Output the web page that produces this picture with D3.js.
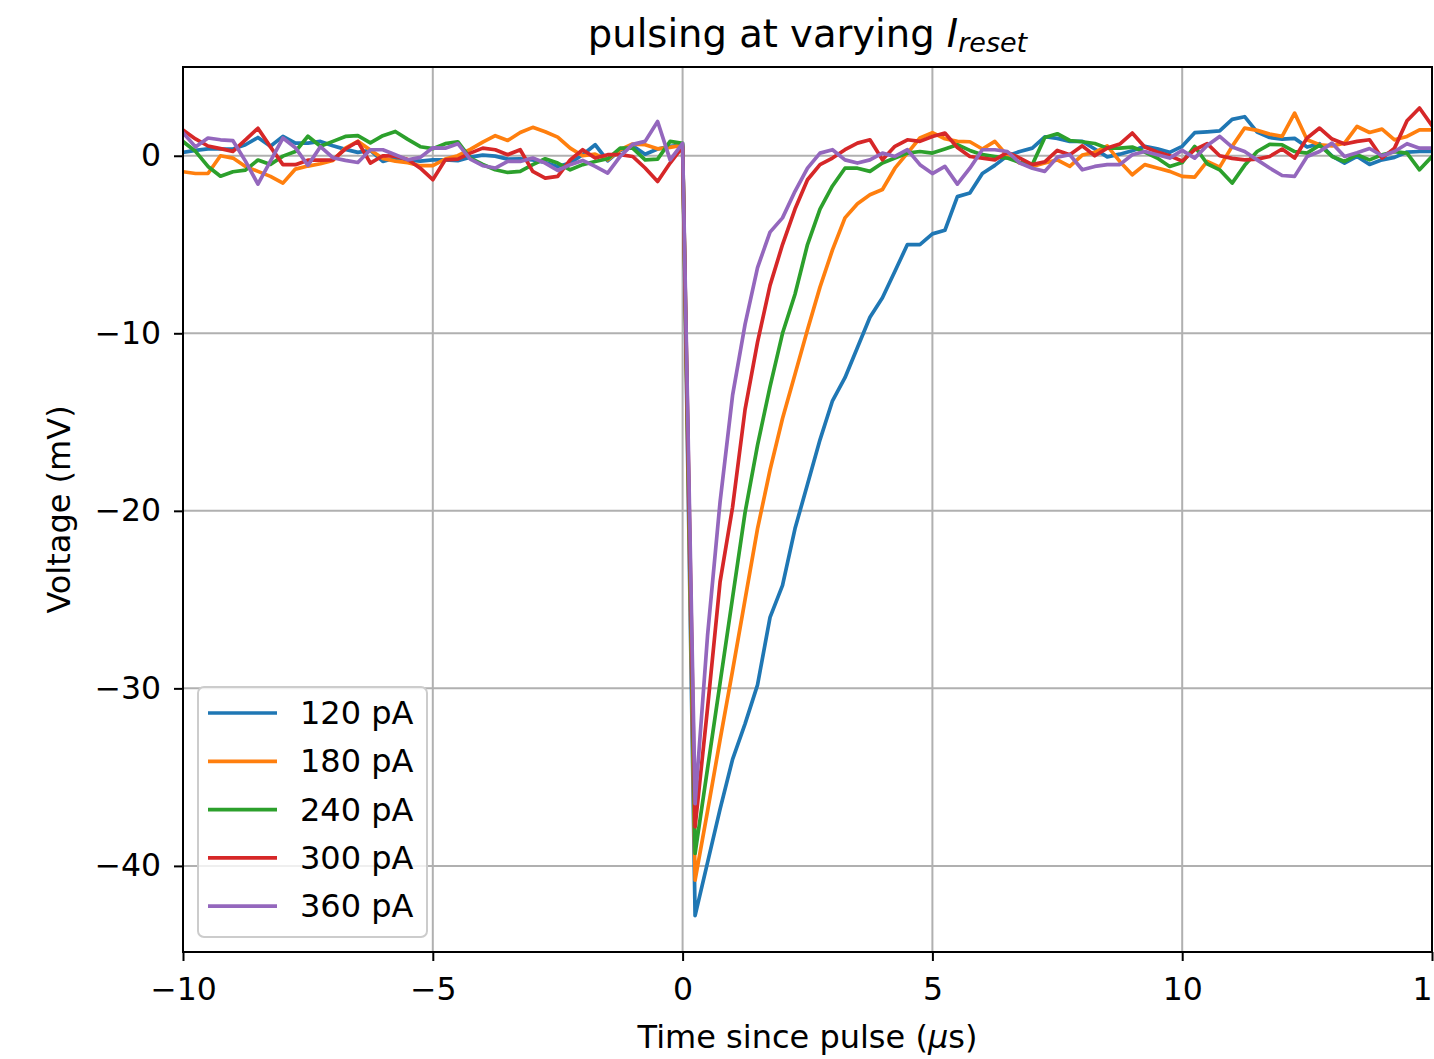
<!DOCTYPE html>
<html>
<head>
<meta charset="utf-8">
<script src="https://cdn.jsdelivr.net/npm/d3@7"></script>
<style>
  html, body { margin: 0; padding: 0; background: #fff; }
  svg text { font-family: "DejaVu Sans", sans-serif; fill: #000; }
</style>
</head>
<body>
<svg id="chart" width="1434" height="1059"></svg>
<script>
// sample grid of the recording (µs)
const T_START = -10;
const T_STEP = 0.25;

const labels = ["120 pA", "180 pA", "240 pA", "300 pA", "360 pA"];
const colors = ["#1f77b4", "#ff7f0e", "#2ca02c", "#d62728", "#9467bd"];

const xTicks = [-10, -5, 0, 5, 10, 15];
const yTicks = [0, -10, -20, -30, -40];

// voltage traces (mV), one value per sample, t = -10 ... 15
const v120 = [
  0.19, 0.30, 0.39, 0.38, 0.38, 0.62, 1.03, 0.54, 1.09, 0.71, 0.71, 0.81, 0.56, 0.36, 0.19, 0.30, -0.32, -0.13, -0.23, -0.30, -0.23,
  -0.23, -0.28, -0.08, 0.04, -0.02, -0.19, -0.17, -0.23, -0.38, -0.6, -0.41, 0.06, 0.62, -0.28, 0.3, 0.56, 0.09, 0.38, 0.53, 0.6,
  -42.8, -39.8, -36.8, -34.0, -32.0, -29.8, -26.0, -24.2, -21.0, -18.5, -16.0, -13.8, -12.5, -10.8, -9.1, -8.0, -6.5, -5.0, -5.0, -4.4,
  -4.2, -2.3, -2.1, -1.0, -0.54, 0.0, 0.24, 0.43, 1.07, 0.98, 0.81, 0.81, 0.38, -0.06, 0.09, 0.28, 0.53, 0.39, 0.19, 0.53,
  1.3, 1.35, 1.4, 2.05, 2.2, 1.33, 1.03, 0.94, 0.98, 0.49, 0.68, -0.02, -0.41, -0.04, -0.49, -0.23, -0.09, 0.21, 0.24, 0.24
];
const v180 = [
  -0.90, -1.0, -1.0, 0.0, -0.13, -0.6, -0.88, -1.16, -1.54, -0.75, -0.58, -0.45, -0.26, 0.43, 0.81, 0.32, -0.15, -0.30, -0.39, -0.56, -0.55,
  -0.19, 0.0, 0.36, 0.77, 1.13, 0.86, 1.31, 1.6, 1.35, 1.05, 0.43, 0.0, 0.09, -0.23, 0.34, 0.66, 0.62, 0.39, 0.47, 0.6,
  -40.8, -36.9, -32.9, -29.0, -25.0, -21.0, -17.7, -14.8, -12.3, -9.8, -7.4, -5.3, -3.5, -2.7, -2.2, -1.9, -0.7, 0.15, 1.0, 1.3,
  0.96, 0.81, 0.79, 0.38, 0.81, 0.0, -0.41, -0.6, -0.41, -0.23, -0.6, 0.04, 0.19, 0.56, -0.32, -1.07, -0.5, -0.69, -0.88, -1.16,
  -1.2, -0.32, -0.64, 0.53, 1.56, 1.43, 1.22, 1.09, 2.4, 0.9, 0.62, 0.56, 0.71, 1.65, 1.31, 1.5, 0.9, 1.09, 1.46, 1.46
];
const v240 = [
  0.8, 0.25, -0.6, -1.15, -0.9, -0.81, -0.24, -0.49, -0.02, 0.24, 1.1, 0.54, 0.81, 1.09, 1.13, 0.73, 1.13, 1.37, 0.92, 0.51, 0.4,
  0.68, 0.79, -0.13, -0.49, -0.79, -0.94, -0.88, -0.5, -0.17, -0.41, -0.79, -0.5, -0.32, -0.17, 0.43, 0.43, -0.23, -0.19, 0.81, 0.7,
  -39.3, -34.5, -29.7, -24.9, -20.1, -16.3, -13.0, -10.0, -7.8, -5.0, -3.0, -1.7, -0.7, -0.7, -0.88, -0.41, -0.13, 0.15, 0.24, 0.15,
  0.38, 0.62, 0.3, 0.06, -0.04, -0.13, -0.38, -0.5, 1.03, 1.24, 0.86, 0.79, 0.69, 0.43, 0.43, 0.49, 0.21, -0.13, -0.6, -0.38,
  0.53, -0.45, -0.79, -1.54, -0.54, 0.24, 0.64, 0.62, 0.24, 0.15, 0.6, -0.04, -0.32, 0.06, -0.23, 0.06, 0.23, 0.15, -0.79, -0.04
];
const v300 = [
  1.45, 0.95, 0.55, 0.4, 0.25, 0.9, 1.55, 0.5, -0.5, -0.5, -0.25, -0.25, -0.23, 0.38, 0.8, -0.41, 0.0, -0.02, -0.21, -0.7, -1.35,
  -0.23, -0.19, 0.15, 0.43, 0.34, 0.06, 0.34, -0.88, -1.26, -1.16, -0.23, 0.34, -0.13, 0.06, 0.06, -0.04, -0.69, -1.45, -0.41, 0.5,
  -37.8, -31.1, -24.0, -19.8, -14.3, -10.5, -7.3, -5.0, -3.0, -1.35, -0.5, -0.13, 0.34, 0.71, 0.9, -0.23, 0.53, 0.9, 0.81, 1.09,
  1.28, 0.47, -0.04, -0.13, -0.23, 0.19, -0.13, -0.5, -0.34, 0.3, 0.06, 0.56, 0.0, 0.43, 0.66, 1.28, 0.49, 0.21, 0.0, -0.3,
  0.34, 0.68, 0.0, -0.15, -0.23, -0.19, -0.04, 0.38, -0.13, 1.0, 1.56, 0.94, 0.66, 0.81, 0.9, -0.13, 0.43, 1.97, 2.69, 1.69
];
const v360 = [
  1.3, 0.5, 1.0, 0.9, 0.85, -0.3, -1.6, -0.3, 1.0, 0.45, -0.54, 0.51, -0.11, -0.26, -0.38, 0.34, 0.34, 0.06, -0.23, -0.09, 0.45,
  0.43, 0.68, -0.19, -0.56, -0.69, -0.32, -0.32, -0.13, -0.41, -0.83, -0.5, -0.26, -0.6, -0.98, -0.04, 0.64, 0.81, 1.93, -0.23, 0.7,
  -36.5, -27.0, -19.5, -13.5, -9.5, -6.3, -4.3, -3.5, -2.0, -0.7, 0.15, 0.34, -0.23, -0.41, -0.23, 0.15, -0.04, 0.34, -0.5, -1.0,
  -0.6, -1.6, -0.7, 0.34, 0.34, 0.24, -0.41, -0.7, -0.88, -0.08, 0.06, -0.79, -0.6, -0.5, -0.5, 0.06, 0.24, 0.06, -0.13, 0.3,
  -0.13, 0.58, 1.09, 0.49, 0.24, -0.23, -0.69, -1.11, -1.16, -0.04, 0.24, 0.71, -0.04, 0.17, 0.41, 0.0, 0.24, 0.68, 0.43, 0.43
];
const traces = [v120, v180, v240, v300, v360];

// layout
const plot = { left: 183, top: 67, right: 1432, bottom: 952 };
const fontSize = 31.5;

const svg = d3.select("#chart");

const x = d3.scaleLinear().domain([-10, 15]).range([plot.left, plot.right]);
const y = d3.scaleLinear().domain([-44.85, 5.0]).range([plot.bottom, plot.top]);

svg.append("defs").append("clipPath")
  .attr("id", "plot-clip")
  .append("rect")
  .attr("x", plot.left)
  .attr("y", plot.top)
  .attr("width", plot.right - plot.left)
  .attr("height", plot.bottom - plot.top);

// grid
svg.append("g")
  .selectAll("line")
  .data(xTicks)
  .join("line")
  .attr("x1", d => x(d)).attr("x2", d => x(d))
  .attr("y1", plot.top).attr("y2", plot.bottom)
  .attr("stroke", "#b0b0b0")
  .attr("stroke-width", 2);

svg.append("g")
  .selectAll("line")
  .data(yTicks)
  .join("line")
  .attr("x1", plot.left).attr("x2", plot.right)
  .attr("y1", d => y(d)).attr("y2", d => y(d))
  .attr("stroke", "#b0b0b0")
  .attr("stroke-width", 2);

// traces
const line = d3.line()
  .x((d, i) => x(T_START + i * T_STEP))
  .y(d => y(d));

svg.append("g")
  .attr("clip-path", "url(#plot-clip)")
  .selectAll("path")
  .data(traces)
  .join("path")
  .attr("d", line)
  .attr("fill", "none")
  .attr("stroke", (d, i) => colors[i])
  .attr("stroke-width", 3.7)
  .attr("stroke-linejoin", "round")
  .attr("stroke-linecap", "square");

// frame
svg.append("rect")
  .attr("x", plot.left)
  .attr("y", plot.top)
  .attr("width", plot.right - plot.left)
  .attr("height", plot.bottom - plot.top)
  .attr("fill", "none")
  .attr("stroke", "#000")
  .attr("stroke-width", 2);

// axes
const fmt = d => (d < 0 ? "\u2212" + Math.abs(d) : String(d));

const xAxis = svg.append("g")
  .attr("transform", `translate(0,${plot.bottom})`)
  .call(d3.axisBottom(x).tickValues(xTicks).tickFormat(fmt).tickSize(9).tickPadding(17));

const yAxis = svg.append("g")
  .attr("transform", `translate(${plot.left},0)`)
  .call(d3.axisLeft(y).tickValues(yTicks).tickFormat(fmt).tickSize(9).tickPadding(13));

[xAxis, yAxis].forEach(ax => {
  ax.select(".domain").remove();
  ax.selectAll(".tick line").attr("stroke", "#000").attr("stroke-width", 2);
  ax.selectAll(".tick text")
    .attr("font-size", fontSize)
    .attr("font-family", "DejaVu Sans")
    .attr("fill", "#000");
});

// title
const title = svg.append("text")
  .attr("x", (plot.left + plot.right) / 2)
  .attr("y", 47)
  .attr("text-anchor", "middle")
  .attr("font-size", 38.5);
title.append("tspan").text("pulsing at varying ");
title.append("tspan").attr("font-style", "italic").text("I");
title.append("tspan").attr("font-style", "italic").attr("font-size", 27).attr("dy", 5).text("reset");

// axis labels
const xLabel = svg.append("text")
  .attr("x", (plot.left + plot.right) / 2)
  .attr("y", 1048)
  .attr("text-anchor", "middle")
  .attr("font-size", 32);
xLabel.append("tspan").text("Time since pulse (");
xLabel.append("tspan").attr("font-style", "italic").text("\u03bc");
xLabel.append("tspan").text("s)");

svg.append("text")
  .attr("transform", `translate(70,${(plot.top + plot.bottom) / 2}) rotate(-90)`)
  .attr("text-anchor", "middle")
  .attr("font-size", 32)
  .text("Voltage (mV)");

// legend
const legend = svg.append("g");
legend.append("rect")
  .attr("x", 198)
  .attr("y", 687)
  .attr("width", 229)
  .attr("height", 250)
  .attr("rx", 6)
  .attr("fill", "#fff")
  .attr("fill-opacity", 0.8)
  .attr("stroke", "#cccccc")
  .attr("stroke-width", 2);

const rows = legend.selectAll("g.row")
  .data(labels)
  .join("g")
  .attr("class", "row")
  .attr("transform", (d, i) => `translate(0,${713 + i * 48.3})`);

rows.append("line")
  .attr("x1", 208).attr("x2", 277)
  .attr("stroke", (d, i) => colors[i])
  .attr("stroke-width", 3.7);

rows.append("text")
  .attr("x", 300)
  .attr("y", 11)
  .attr("font-size", 32)
  .text(d => d);
</script>
</body>
</html>
